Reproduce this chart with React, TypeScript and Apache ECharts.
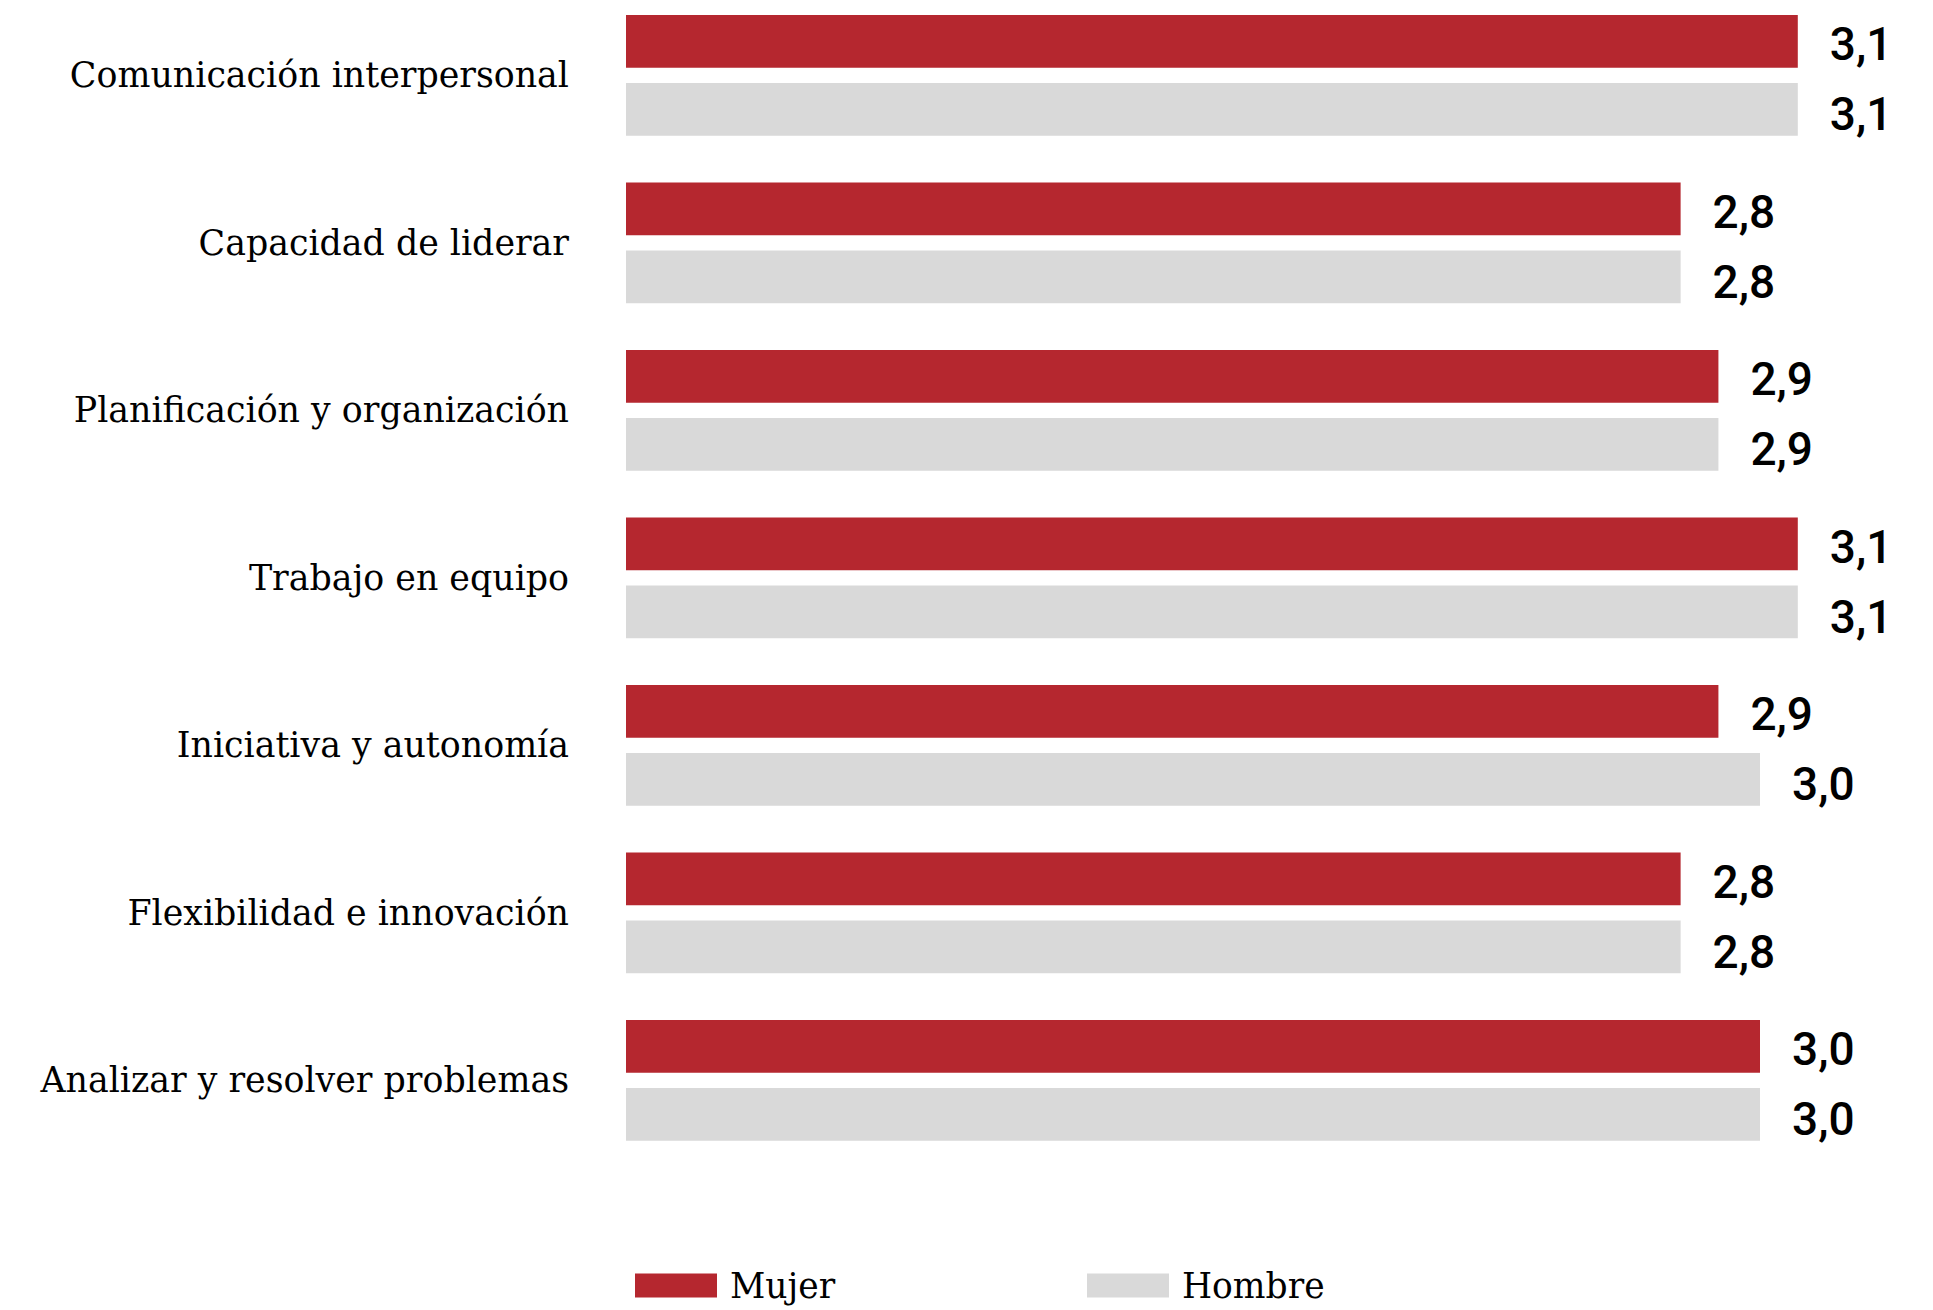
import React, { useEffect, useRef } from "react";
import * as echarts from "echarts";

const categories = [
  "Comunicación interpersonal",
  "Capacidad de liderar",
  "Planificación y organización",
  "Trabajo en equipo",
  "Iniciativa y autonomía",
  "Flexibilidad e innovación",
  "Analizar y resolver problemas",
];
const mujer = [3.1, 2.79, 2.89, 3.1, 2.89, 2.79, 3.0];
const hombre = [3.1, 2.79, 2.89, 3.1, 3.0, 2.79, 3.0];
const seriesNames = ["Mujer", "Hombre"];

const RED = "#B5272F";
const GREY = "#D9D9D9";
const SERIF = "'DejaVu Serif', serif";
const SANS = "Roboto, 'Noto Sans', sans-serif";
const OFF = 20; // container shifted up by this many px

export default function App() {
  const ref = useRef<HTMLDivElement>(null);
  useEffect(() => {
    if (!ref.current) return;
    const chart = echarts.init(ref.current, null, { renderer: "svg" });
    const fmt = (p: any) => Number(p.value).toFixed(1).replace(".", ",");
    const valueLabel = (dy: number) => ({
      show: true,
      position: "right",
      distance: 32,
      offset: [0, dy],
      formatter: fmt,
      fontFamily: SANS,
      fontWeight: 500,
      fontSize: 46,
      color: "#000",
    });
    const legendBase = {
      top: 1268 + OFF,
      padding: 0,
      itemWidth: 82,
      itemHeight: 24,
      icon: "rect",
      textStyle: { fontFamily: SERIF, fontSize: 34.5, color: "#000", padding: [0, 0, 0, 8] },
    };
    chart.setOption({
      animation: false,
      backgroundColor: "#fff",
      grid: { left: 626, top: OFF - 8.45, width: 1247.4, height: 1172.5, containLabel: false },
      xAxis: {
        type: "value",
        min: 0,
        max: 3.3,
        show: false,
      },
      yAxis: {
        type: "category",
        data: categories,
        inverse: true,
        axisLine: { show: false },
        axisTick: { show: false },
        splitLine: { show: false },
        axisLabel: {
          margin: 57,
          fontFamily: SERIF,
          fontSize: 34.8,
          color: "#000",
        },
      },
      legend: [
        { ...legendBase, data: [seriesNames[0]], left: 635 },
        { ...legendBase, data: [seriesNames[1]], left: 1087 },
      ],
      series: [
        {
          name: seriesNames[0],
          type: "bar",
          data: mujer,
          barWidth: 52.7,
          barGap: "29%",
          itemStyle: { color: RED },
          label: valueLabel(3),
        },
        {
          name: seriesNames[1],
          type: "bar",
          data: hombre,
          barWidth: 52.7,
          barGap: "29%",
          itemStyle: { color: GREY },
          label: valueLabel(5),
        },
      ],
    });
    return () => chart.dispose();
  }, []);
  return (
    <div
      ref={ref}
      style={{ position: "absolute", left: 0, top: -OFF, width: 1933, height: 1310 + OFF }}
    />
  );
}
